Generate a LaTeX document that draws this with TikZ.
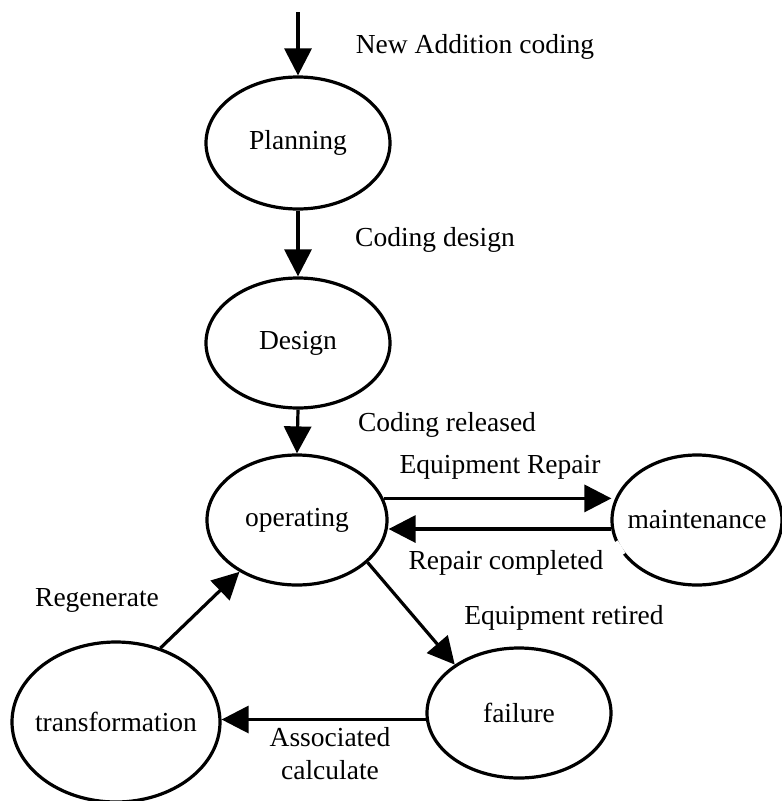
\documentclass[tikz,border=0pt]{standalone}
\usepackage{fontspec}
\setmainfont{Liberation Serif}
\usetikzlibrary{arrows.meta,shapes.geometric}
\begin{document}
\begin{tikzpicture}[x=1pt,y=-1pt,
  font=\fontsize{27.5}{33}\selectfont,
  state/.style={draw,ellipse,line width=3.2pt,inner sep=0pt},
  conn/.style={line width=3.2pt,-{Triangle[length=27pt,width=27pt]}},
  lbl/.style={inner sep=0pt}
]
\useasboundingbox (0,0) rectangle (782,801);
% states
\node[state,minimum width=184pt,minimum height=132pt,label={center:Planning}] (pl) at (298,143) {};
\node[state,minimum width=184pt,minimum height=130pt,label={center:Design}] (de) at (298,343) {};
\node[state,minimum width=180pt,minimum height=130pt,label={center:operating}] (op) at (297,520) {};
\node[state,minimum width=170pt,minimum height=130pt,label={center:maintenance}] (mt) at (697,520) {};
\node[state,minimum width=184pt,minimum height=130pt,label={center:failure}] (fa) at (519,713) {};
\node[state,minimum width=208pt,minimum height=160pt,label={center:transformation}] (tr) at (116,722) {};
\coordinate (start) at (298,12);
% small gap in the maintenance outline
\draw[white,line width=6pt] (mt.195) -- (mt.205);
% connectors
\draw[conn] (start) -- (pl.north);
\draw[conn] (pl.south) -- (de.north);
\draw[conn] (de.south) -- (op.north);
\draw[conn] (op.14.6) -- ([xshift=1pt]op.14.6 -| mt.west);
\draw[conn] (mt.-174.6) -- (mt.-174.6 -| op.east);
\draw[conn] (op.-31.2) -- (fa.143.1);
\draw[conn] (fa.-176.9) -- (fa.-176.9 -| tr.east);
\draw[conn] (tr.59.1) -- (op.-138.7);
% labels
\node[lbl] (l1) at (475,47) {New Addition coding};
\node[lbl] (l2) at (435,240) {Coding design};
\node[lbl] (l3) at (447,425) {Coding released};
\node[lbl] (l4) at (500,467) {Equipment Repair};
\node[lbl] (l5) at (506,563) {Repair completed};
\node[lbl] (l6) at (564,618) {Equipment retired};
\node[lbl] (l7) at (97,600) {Regenerate};
\node[lbl,align=center] (l8) at (330,754) {Associated\\calculate};
\end{tikzpicture}
\end{document}
